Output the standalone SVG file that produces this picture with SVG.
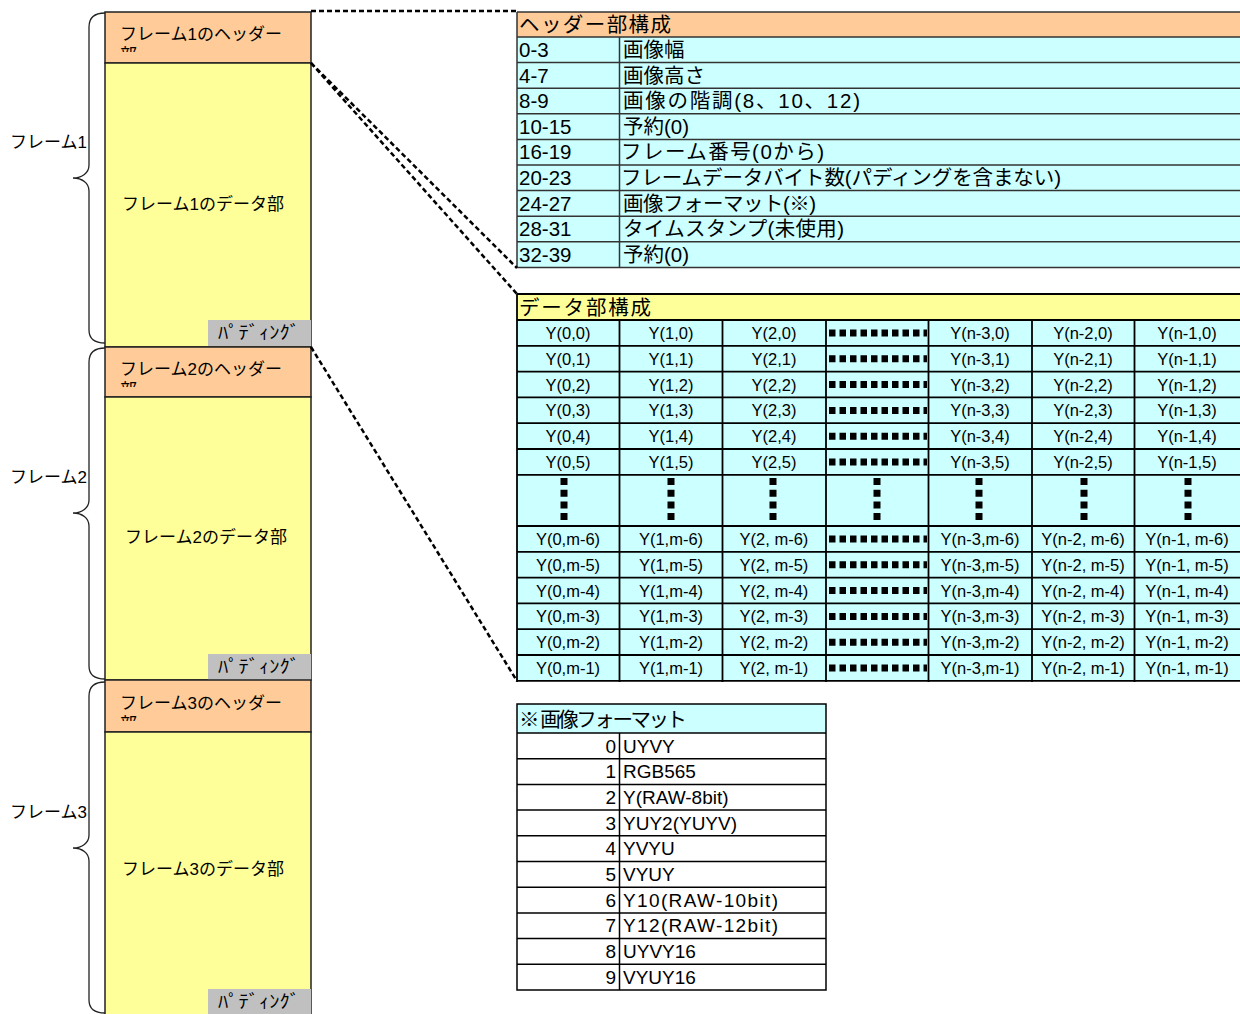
<svg xmlns="http://www.w3.org/2000/svg" width="1240" height="1014" viewBox="0 0 1240 1014">
<style>
text{font-family:"Liberation Sans","Noto Sans CJK JP",sans-serif;fill:#000}
.hdr{fill:#FFCC99;stroke:#222;stroke-width:1.5}
.dat{fill:#FFFF99;stroke:#222;stroke-width:1.5}
.pad{fill:#C0C0C0}
.lbl{font-size:17px}
.pt{font-family:"Noto Sans CJK JP",sans-serif;font-size:18px}
.brace{fill:none;stroke:#222;stroke-width:1.3}
.tl{stroke:#333;stroke-width:1.5}
.dl{stroke:#000;stroke-width:1.8}
.t21{font-size:20.5px}
.c{font-size:16.5px;text-anchor:middle}
.f{font-size:19px}
.n{font-size:19px;text-anchor:end}
.dash{fill:none;stroke:#000;stroke-width:2.5;stroke-dasharray:5 3}
.hdots{stroke:#000;stroke-width:7;stroke-dasharray:6.5 4}
.vdots{stroke:#000;stroke-width:7;stroke-dasharray:7 4.7}
</style>
<defs>
<clipPath id="clip1"><rect x="105" y="12" width="206" height="40"/></clipPath>
<clipPath id="clip2"><rect x="105" y="347" width="206" height="40"/></clipPath>
<clipPath id="clip3"><rect x="105" y="680" width="206" height="41"/></clipPath>
</defs>
<rect width="1240" height="1014" fill="#fff"/>

<g id="frame1">
<rect class="hdr" x="105" y="12" width="206" height="51"/>
<rect class="dat" x="105" y="63" width="206" height="284"/>
<rect class="pad" x="208" y="320" width="103" height="26"/>
<g clip-path="url(#clip1)"><text class="lbl" x="120" y="40">フレーム1のヘッダー</text><text class="lbl" x="120" y="61">部</text></g>
<text class="lbl" x="203" y="210" text-anchor="middle">フレーム1のデータ部</text>
<text class="pt" x="218" y="339" textLength="82" lengthAdjust="spacingAndGlyphs">ﾊﾟﾃﾞｨﾝｸﾞ</text>
<path class="brace" d="M105,13 C95,13 89,17 89,27 L89,165 C89,173 82,178 73,178 C82,178 89,183 89,191 L89,330 C89,339 95,343 105,343"/>
<text class="lbl" x="10" y="148">フレーム1</text>
</g>

<g id="frame2">
<rect class="hdr" x="105" y="347" width="206" height="50"/>
<rect class="dat" x="105" y="397" width="206" height="283"/>
<rect class="pad" x="208" y="654" width="103" height="26"/>
<g clip-path="url(#clip2)"><text class="lbl" x="120" y="375">フレーム2のヘッダー</text><text class="lbl" x="120" y="396">部</text></g>
<text class="lbl" x="206" y="543" text-anchor="middle">フレーム2のデータ部</text>
<text class="pt" x="218" y="673" textLength="82" lengthAdjust="spacingAndGlyphs">ﾊﾟﾃﾞｨﾝｸﾞ</text>
<path class="brace" d="M105,348 C95,348 89,352 89,362 L89,500 C89,508 82,513 73,513 C82,513 89,518 89,526 L89,666 C89,675 95,679 105,679"/>
<text class="lbl" x="10" y="483">フレーム2</text>
</g>

<g id="frame3">
<rect class="hdr" x="105" y="680" width="206" height="52"/>
<rect class="dat" x="105" y="732" width="206" height="284"/>
<rect class="pad" x="208" y="989" width="103" height="26"/>
<g clip-path="url(#clip3)"><text class="lbl" x="120" y="709">フレーム3のヘッダー</text><text class="lbl" x="120" y="730">部</text></g>
<text class="lbl" x="203" y="875" text-anchor="middle">フレーム3のデータ部</text>
<text class="pt" x="218" y="1008" textLength="82" lengthAdjust="spacingAndGlyphs">ﾊﾟﾃﾞｨﾝｸﾞ</text>
<path class="brace" d="M105,682 C95,682 89,686 89,696 L89,835 C89,843 82,848 73,848 C82,848 89,853 89,861 L89,1000 C89,1009 95,1013 105,1013"/>
<text class="lbl" x="10" y="818">フレーム3</text>
</g>

<g id="header-table">
<rect x="517" y="12" width="723" height="25" fill="#FFCC99"/>
<rect x="517" y="37" width="723" height="231" fill="#CCFFFF"/>
<g class="tl">
<line x1="517" y1="12" x2="1240" y2="12"/>
<line x1="517" y1="37" x2="1240" y2="37"/>
<line x1="517" y1="62.6" x2="1240" y2="62.6"/>
<line x1="517" y1="88.2" x2="1240" y2="88.2"/>
<line x1="517" y1="113.8" x2="1240" y2="113.8"/>
<line x1="517" y1="139.4" x2="1240" y2="139.4"/>
<line x1="517" y1="165" x2="1240" y2="165"/>
<line x1="517" y1="190.6" x2="1240" y2="190.6"/>
<line x1="517" y1="216.2" x2="1240" y2="216.2"/>
<line x1="517" y1="241.8" x2="1240" y2="241.8"/>
<line x1="517" y1="267.4" x2="1240" y2="267.4"/>
<line x1="517" y1="12" x2="517" y2="267.4"/>
<line x1="619.5" y1="37" x2="619.5" y2="267.4"/>
</g>
<text class="t21" x="519" y="32" textLength="152">ヘッダー部構成</text>
<g class="t21">
<text x="519" y="57">0-3</text><text x="623" y="57">画像幅</text>
<text x="519" y="82.6">4-7</text><text x="623" y="82.6">画像高さ</text>
<text x="519" y="108.2">8-9</text><text x="623" y="108.2" textLength="237">画像の階調(8、10、12)</text>
<text x="519" y="133.8">10-15</text><text x="623" y="133.8">予約(0)</text>
<text x="519" y="159.4">16-19</text><text x="621" y="159.4" textLength="203">フレーム番号(0から)</text>
<text x="519" y="185">20-23</text><text x="621" y="185" textLength="440">フレームデータバイト数(パディングを含まない)</text>
<text x="519" y="210.6">24-27</text><text x="623" y="210.6" textLength="193">画像フォーマット(※)</text>
<text x="519" y="236.2">28-31</text><text x="623" y="236.2" textLength="221">タイムスタンプ(未使用)</text>
<text x="519" y="261.8">32-39</text><text x="623" y="261.8">予約(0)</text>
</g>
</g>

<g id="data-table">
<rect x="517" y="294" width="723" height="26" fill="#FFFF99"/>
<rect x="517" y="320" width="723" height="361" fill="#CCFFFF"/>
<g class="dl">
<line x1="517" y1="294" x2="1240" y2="294"/>
<line x1="517" y1="320" x2="1240" y2="320"/>
<line x1="517" y1="345.8" x2="1240" y2="345.8"/>
<line x1="517" y1="371.6" x2="1240" y2="371.6"/>
<line x1="517" y1="397.4" x2="1240" y2="397.4"/>
<line x1="517" y1="423.2" x2="1240" y2="423.2"/>
<line x1="517" y1="449" x2="1240" y2="449"/>
<line x1="517" y1="474.8" x2="1240" y2="474.8"/>
<line x1="517" y1="526" x2="1240" y2="526"/>
<line x1="517" y1="551.8" x2="1240" y2="551.8"/>
<line x1="517" y1="577.6" x2="1240" y2="577.6"/>
<line x1="517" y1="603.4" x2="1240" y2="603.4"/>
<line x1="517" y1="629.2" x2="1240" y2="629.2"/>
<line x1="517" y1="655" x2="1240" y2="655"/>
<line x1="517" y1="680.8" x2="1240" y2="680.8"/>
<line x1="517" y1="294" x2="517" y2="682"/>
<line x1="619.5" y1="320" x2="619.5" y2="682"/>
<line x1="722.5" y1="320" x2="722.5" y2="682"/>
<line x1="826" y1="320" x2="826" y2="682"/>
<line x1="928.5" y1="320" x2="928.5" y2="682"/>
<line x1="1032" y1="320" x2="1032" y2="682"/>
<line x1="1134.5" y1="320" x2="1134.5" y2="682"/>
</g>
<text class="t21" x="519" y="315" textLength="132">データ部構成</text>
<g class="c">
<text x="568" y="339">Y(0,0)</text><text x="671" y="339">Y(1,0)</text><text x="774" y="339">Y(2,0)</text><text x="980" y="339">Y(n-3,0)</text><text x="1083" y="339">Y(n-2,0)</text><text x="1187" y="339">Y(n-1,0)</text>
<text x="568" y="364.8">Y(0,1)</text><text x="671" y="364.8">Y(1,1)</text><text x="774" y="364.8">Y(2,1)</text><text x="980" y="364.8">Y(n-3,1)</text><text x="1083" y="364.8">Y(n-2,1)</text><text x="1187" y="364.8">Y(n-1,1)</text>
<text x="568" y="390.6">Y(0,2)</text><text x="671" y="390.6">Y(1,2)</text><text x="774" y="390.6">Y(2,2)</text><text x="980" y="390.6">Y(n-3,2)</text><text x="1083" y="390.6">Y(n-2,2)</text><text x="1187" y="390.6">Y(n-1,2)</text>
<text x="568" y="416.4">Y(0,3)</text><text x="671" y="416.4">Y(1,3)</text><text x="774" y="416.4">Y(2,3)</text><text x="980" y="416.4">Y(n-3,3)</text><text x="1083" y="416.4">Y(n-2,3)</text><text x="1187" y="416.4">Y(n-1,3)</text>
<text x="568" y="442.2">Y(0,4)</text><text x="671" y="442.2">Y(1,4)</text><text x="774" y="442.2">Y(2,4)</text><text x="980" y="442.2">Y(n-3,4)</text><text x="1083" y="442.2">Y(n-2,4)</text><text x="1187" y="442.2">Y(n-1,4)</text>
<text x="568" y="468">Y(0,5)</text><text x="671" y="468">Y(1,5)</text><text x="774" y="468">Y(2,5)</text><text x="980" y="468">Y(n-3,5)</text><text x="1083" y="468">Y(n-2,5)</text><text x="1187" y="468">Y(n-1,5)</text>
<text x="568" y="545">Y(0,m-6)</text><text x="671" y="545">Y(1,m-6)</text><text x="774" y="545">Y(2, m-6)</text><text x="980" y="545">Y(n-3,m-6)</text><text x="1083" y="545">Y(n-2, m-6)</text><text x="1187" y="545">Y(n-1, m-6)</text>
<text x="568" y="570.8">Y(0,m-5)</text><text x="671" y="570.8">Y(1,m-5)</text><text x="774" y="570.8">Y(2, m-5)</text><text x="980" y="570.8">Y(n-3,m-5)</text><text x="1083" y="570.8">Y(n-2, m-5)</text><text x="1187" y="570.8">Y(n-1, m-5)</text>
<text x="568" y="596.6">Y(0,m-4)</text><text x="671" y="596.6">Y(1,m-4)</text><text x="774" y="596.6">Y(2, m-4)</text><text x="980" y="596.6">Y(n-3,m-4)</text><text x="1083" y="596.6">Y(n-2, m-4)</text><text x="1187" y="596.6">Y(n-1, m-4)</text>
<text x="568" y="622.4">Y(0,m-3)</text><text x="671" y="622.4">Y(1,m-3)</text><text x="774" y="622.4">Y(2, m-3)</text><text x="980" y="622.4">Y(n-3,m-3)</text><text x="1083" y="622.4">Y(n-2, m-3)</text><text x="1187" y="622.4">Y(n-1, m-3)</text>
<text x="568" y="648.2">Y(0,m-2)</text><text x="671" y="648.2">Y(1,m-2)</text><text x="774" y="648.2">Y(2, m-2)</text><text x="980" y="648.2">Y(n-3,m-2)</text><text x="1083" y="648.2">Y(n-2, m-2)</text><text x="1187" y="648.2">Y(n-1, m-2)</text>
<text x="568" y="674">Y(0,m-1)</text><text x="671" y="674">Y(1,m-1)</text><text x="774" y="674">Y(2, m-1)</text><text x="980" y="674">Y(n-3,m-1)</text><text x="1083" y="674">Y(n-2, m-1)</text><text x="1187" y="674">Y(n-1, m-1)</text>
</g>
<g class="hdots">
<line x1="829" y1="333" x2="927" y2="333"/>
<line x1="829" y1="358.8" x2="927" y2="358.8"/>
<line x1="829" y1="384.6" x2="927" y2="384.6"/>
<line x1="829" y1="410.4" x2="927" y2="410.4"/>
<line x1="829" y1="436.2" x2="927" y2="436.2"/>
<line x1="829" y1="462" x2="927" y2="462"/>
<line x1="829" y1="539" x2="927" y2="539"/>
<line x1="829" y1="564.8" x2="927" y2="564.8"/>
<line x1="829" y1="590.6" x2="927" y2="590.6"/>
<line x1="829" y1="616.4" x2="927" y2="616.4"/>
<line x1="829" y1="642.2" x2="927" y2="642.2"/>
<line x1="829" y1="668" x2="927" y2="668"/>
</g>
<g class="vdots">
<line x1="564" y1="478" x2="564" y2="521"/>
<line x1="671" y1="478" x2="671" y2="521"/>
<line x1="773" y1="478" x2="773" y2="521"/>
<line x1="877" y1="478" x2="877" y2="521"/>
<line x1="979" y1="478" x2="979" y2="521"/>
<line x1="1084" y1="478" x2="1084" y2="521"/>
<line x1="1188" y1="478" x2="1188" y2="521"/>
</g>
</g>

<g id="format-table">
<rect x="517" y="704" width="309" height="29" fill="#CCFFFF"/>
<rect x="517" y="733" width="309" height="257" fill="#fff"/>
<g class="dl" style="stroke-width:1.5">
<rect x="517" y="704" width="309" height="286" fill="none"/>
<line x1="517" y1="733" x2="826" y2="733"/>
<line x1="517" y1="758.7" x2="826" y2="758.7"/>
<line x1="517" y1="784.4" x2="826" y2="784.4"/>
<line x1="517" y1="810.1" x2="826" y2="810.1"/>
<line x1="517" y1="835.8" x2="826" y2="835.8"/>
<line x1="517" y1="861.5" x2="826" y2="861.5"/>
<line x1="517" y1="887.2" x2="826" y2="887.2"/>
<line x1="517" y1="912.9" x2="826" y2="912.9"/>
<line x1="517" y1="938.6" x2="826" y2="938.6"/>
<line x1="517" y1="964.3" x2="826" y2="964.3"/>
<line x1="619.5" y1="733" x2="619.5" y2="990"/>
</g>
<text class="t21" x="519" y="727" textLength="168">※ 画像フォーマット</text>
<text class="n" x="616" y="752.5">0</text><text class="f" x="623" y="752.5">UYVY</text>
<text class="n" x="616" y="778.2">1</text><text class="f" x="623" y="778.2">RGB565</text>
<text class="n" x="616" y="803.9">2</text><text class="f" x="623" y="803.9">Y(RAW-8bit)</text>
<text class="n" x="616" y="829.6">3</text><text class="f" x="623" y="829.6">YUY2(YUYV)</text>
<text class="n" x="616" y="855.3">4</text><text class="f" x="623" y="855.3">YVYU</text>
<text class="n" x="616" y="881">5</text><text class="f" x="623" y="881">VYUY</text>
<text class="n" x="616" y="906.7">6</text><text class="f" x="623" y="906.7" textLength="155">Y10(RAW-10bit)</text>
<text class="n" x="616" y="932.4">7</text><text class="f" x="623" y="932.4" textLength="155">Y12(RAW-12bit)</text>
<text class="n" x="616" y="958.1">8</text><text class="f" x="623" y="958.1">UYVY16</text>
<text class="n" x="616" y="983.8">9</text><text class="f" x="623" y="983.8">VYUY16</text>
</g>

<g id="connectors">
<line class="dash" x1="311" y1="11" x2="517" y2="11"/>
<line class="dash" x1="311" y1="63" x2="517" y2="268"/>
<line class="dash" x1="311" y1="63" x2="517" y2="294"/>
<line class="dash" x1="311" y1="347" x2="517" y2="681"/>
</g>
</svg>
